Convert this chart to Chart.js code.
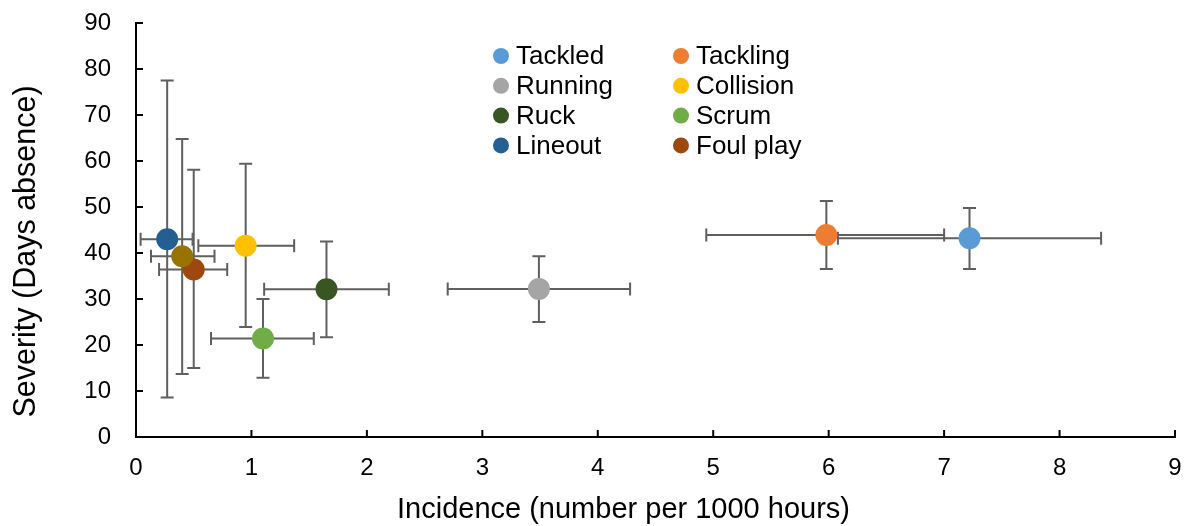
<!DOCTYPE html>
<html>
<head>
<meta charset="utf-8">
<script src="https://cdn.jsdelivr.net/npm/chart.js@4/dist/chart.umd.min.js"></script>
<style>
  html, body { margin: 0; padding: 0; background: #fff; }
  #wrap { width: 1186px; height: 526px; }
</style>
</head>
<body>
<div id="wrap"><canvas id="chart" width="1186" height="526"></canvas></div>
<script>
const categories = ["Tackled", "Tackling", "Running", "Collision", "Ruck", "Scrum", "Lineout", "Foul play", "Other"];
const incidence = [7.22, 5.98, 3.49, 0.95, 1.65, 1.10, 0.27, 0.50, 0.40];
const severity = [43.2, 43.9, 32.2, 41.6, 32.1, 21.4, 43.0, 36.4, 39.3];
const incidenceLow = [6.08, 4.94, 2.70, 0.54, 1.11, 0.65, 0.04, 0.20, 0.13];
const incidenceHigh = [8.36, 7.00, 4.28, 1.37, 2.19, 1.54, 0.49, 0.79, 0.68];
const severityLow = [36.5, 36.5, 25.0, 23.9, 21.7, 12.9, 8.6, 15.0, 13.7];
const severityHigh = [49.8, 51.3, 39.3, 59.4, 42.5, 30.0, 77.5, 58.1, 64.8];
const colors = ["#5B9BD5", "#ED7D31", "#A5A5A5", "#FFC000", "#375623", "#70AD47", "#255E91", "#9E480E", "#997300"];
const legendItems = ["Tackled", "Tackling", "Running", "Collision", "Ruck", "Scrum", "Lineout", "Foul play"];
const xTitle = "Incidence (number per 1000 hours)";
const yTitle = "Severity (Days absence)";

const font = "'Liberation Sans', Arial, sans-serif";

const errorBars = {
    id: "errorBars",
    beforeDatasetsDraw(chart) {
        const ctx = chart.ctx;
        const xs = chart.scales.x;
        const ys = chart.scales.y;
        const cap = 6.5;
        ctx.save();
        ctx.strokeStyle = "#5f5f5f";
        ctx.lineWidth = 2;
        categories.forEach((c, i) => {
            const px = xs.getPixelForValue(incidence[i]);
            const py = ys.getPixelForValue(severity[i]);
            const x1 = xs.getPixelForValue(incidenceLow[i]);
            const x2 = xs.getPixelForValue(incidenceHigh[i]);
            const y1 = ys.getPixelForValue(severityLow[i]);
            const y2 = ys.getPixelForValue(severityHigh[i]);
            ctx.beginPath();
            ctx.moveTo(x1, py); ctx.lineTo(x2, py);
            ctx.moveTo(x1, py - cap); ctx.lineTo(x1, py + cap);
            ctx.moveTo(x2, py - cap); ctx.lineTo(x2, py + cap);
            ctx.moveTo(px, y1); ctx.lineTo(px, y2);
            ctx.moveTo(px - cap, y1); ctx.lineTo(px + cap, y1);
            ctx.moveTo(px - cap, y2); ctx.lineTo(px + cap, y2);
            ctx.stroke();
        });
        ctx.restore();
    }
};

// tick marks point inward, like the original
const innerTicks = {
    id: "innerTicks",
    afterDraw(chart) {
        const ctx = chart.ctx;
        const xs = chart.scales.x;
        const ys = chart.scales.y;
        const area = chart.chartArea;
        ctx.save();
        ctx.strokeStyle = "#000";
        ctx.lineWidth = 2;
        ctx.beginPath();
        xs.ticks.forEach(t => {
            const x = xs.getPixelForValue(t.value);
            ctx.moveTo(x, area.bottom); ctx.lineTo(x, area.bottom - 7);
        });
        ys.ticks.forEach(t => {
            const y = ys.getPixelForValue(t.value);
            ctx.moveTo(area.left, y); ctx.lineTo(area.left + 7, y);
        });
        ctx.stroke();
        ctx.restore();
    }
};

// axis titles sit a bit off-centre in the original, so draw them here
const axisTitles = {
    id: "axisTitles",
    afterDraw(chart) {
        const ctx = chart.ctx;
        ctx.save();
        ctx.fillStyle = "#000";
        ctx.textAlign = "center";
        ctx.textBaseline = "middle";
        ctx.font = "29px " + font;
        ctx.fillText(xTitle, 623.5, 510);
        ctx.translate(27, 251.5);
        ctx.rotate(-Math.PI / 2);
        ctx.font = "30.5px " + font;
        ctx.fillText(yTitle, 0, 0);
        ctx.restore();
    }
};

const customLegend = {
    id: "customLegend",
    afterDraw(chart) {
        const ctx = chart.ctx;
        ctx.save();
        ctx.font = "26px " + font;
        ctx.textBaseline = "middle";
        legendItems.forEach((name, i) => {
            const col = i % 2;
            const row = Math.floor(i / 2);
            const mx = col === 0 ? 501 : 681;
            const my = 56 + row * 29.8;
            ctx.beginPath();
            ctx.fillStyle = colors[categories.indexOf(name)];
            ctx.arc(mx, my, 8, 0, Math.PI * 2);
            ctx.fill();
            ctx.fillStyle = "#000";
            ctx.fillText(name, mx + 15, my + 1);
        });
        ctx.restore();
    }
};

new Chart(document.getElementById("chart").getContext("2d"), {
    type: "scatter",
    data: {
        datasets: [{
            label: "Injuries",
            data: categories.map((c, i) => ({ x: incidence[i], y: severity[i] })),
            pointBackgroundColor: colors,
            pointBorderColor: colors,
            pointRadius: 11,
            pointHoverRadius: 11,
            borderWidth: 0
        }]
    },
    options: {
        responsive: false,
        animation: false,
        layout: { padding: { top: 23, right: 11, left: 0, bottom: 0 } },
        plugins: {
            legend: { display: false },
            tooltip: { enabled: false }
        },
        scales: {
            x: {
                type: "linear",
                min: 0,
                max: 9,
                afterFit(scale) {
                    scale.height = 89;
                    scale.paddingLeft = 0;
                    scale.paddingRight = 0;
                },
                ticks: { stepSize: 1, color: "#000", font: { family: font, size: 24 }, padding: 17 },
                grid: { display: false, drawTicks: false },
                border: { color: "#000", width: 2 }
            },
            y: {
                type: "linear",
                min: 0,
                max: 90,
                afterFit(scale) {
                    scale.width = 136;
                    scale.paddingTop = 0;
                    scale.paddingBottom = 0;
                },
                ticks: { stepSize: 10, color: "#000", font: { family: font, size: 24 }, padding: 25 },
                grid: { display: false, drawTicks: false },
                border: { color: "#000", width: 2 }
            }
        }
    },
    plugins: [errorBars, innerTicks, axisTitles, customLegend]
});
</script>
</body>
</html>
